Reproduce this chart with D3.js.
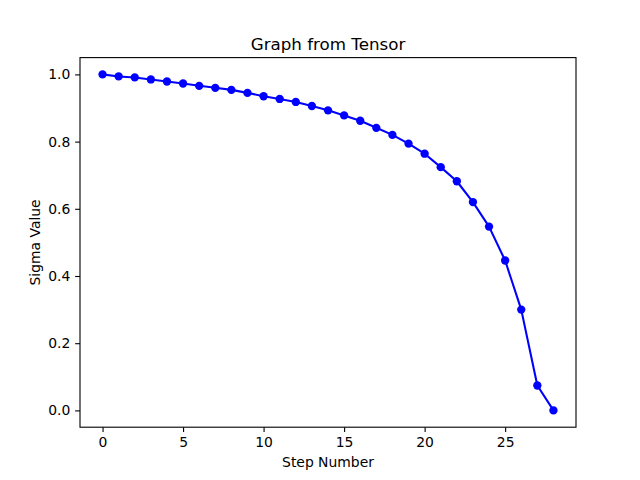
<!DOCTYPE html>
<html>
<head>
<meta charset="utf-8">
<script src="https://cdn.jsdelivr.net/npm/d3@7"></script>
<style>
  body { margin: 0; background: #fff; }
  svg text { font-family: "DejaVu Sans", sans-serif; }
</style>
</head>
<body>
<svg id="chart" width="640" height="480"></svg>
<script>
// step numbers and sigma values
const steps = d3.range(0, 29);
const sigmas = [1.000, 0.994, 0.991, 0.985, 0.979, 0.973, 0.966, 0.960, 0.954, 0.945,
                0.935, 0.927, 0.918, 0.906, 0.893, 0.878, 0.862, 0.841, 0.820, 0.794,
                0.764, 0.724, 0.682, 0.620, 0.547, 0.446, 0.300, 0.074, 0.000];
const xTicks = [0, 5, 10, 15, 20, 25];
const yTicks = [0.0, 0.2, 0.4, 0.6, 0.8, 1.0];

const svg = d3.select("#chart");
const plotLeft = 80, plotRight = 576, plotTop = 57.6, plotBottom = 427.2;

// matplotlib style 5% margins
const x = d3.scaleLinear().domain([-1.4, 29.4]).range([plotLeft, plotRight]);
const y = d3.scaleLinear().domain([-0.05, 1.05]).range([plotBottom, plotTop]);

const data = steps.map((s, i) => ({ s: s, v: sigmas[i] }));

// line
svg.append("path")
  .datum(data)
  .attr("fill", "none")
  .attr("stroke", "#0000ff")
  .attr("stroke-width", 2.08)
  .attr("stroke-linejoin", "round")
  .attr("d", d3.line().x(d => x(d.s)).y(d => y(d.v)));

// markers
svg.selectAll("circle.pt")
  .data(data)
  .enter().append("circle")
  .attr("class", "pt")
  .attr("cx", d => x(d.s))
  .attr("cy", d => y(d.v))
  .attr("r", 4.17)
  .attr("fill", "#0000ff");

// axes
const xAxis = svg.append("g")
  .attr("transform", "translate(0," + plotBottom + ")")
  .call(d3.axisBottom(x).tickValues(xTicks).tickFormat(d3.format("d")).tickSize(4.86).tickPadding(4.8));
const yAxis = svg.append("g")
  .attr("transform", "translate(" + plotLeft + ",0)")
  .call(d3.axisLeft(y).tickValues(yTicks).tickFormat(d3.format(".1f")).tickSize(4.86).tickPadding(4.8));

[xAxis, yAxis].forEach(g => {
  g.select(".domain").remove();
  g.selectAll(".tick line").attr("stroke", "#000").attr("stroke-width", 1.1);
  g.selectAll(".tick text").attr("font-size", 13.9).attr("fill", "#000")
    .style("font-family", "'DejaVu Sans', sans-serif");
});

// frame
svg.append("rect")
  .attr("x", plotLeft).attr("y", plotTop)
  .attr("width", plotRight - plotLeft).attr("height", plotBottom - plotTop)
  .attr("fill", "none").attr("stroke", "#000").attr("stroke-width", 1.1);

// title and labels
svg.append("text")
  .attr("x", (plotLeft + plotRight) / 2).attr("y", 49.5)
  .attr("text-anchor", "middle").attr("font-size", 16.7)
  .text("Graph from Tensor");

svg.append("text")
  .attr("x", (plotLeft + plotRight) / 2).attr("y", 467)
  .attr("text-anchor", "middle").attr("font-size", 13.9)
  .text("Step Number");

svg.append("text")
  .attr("transform", "translate(40," + ((plotTop + plotBottom) / 2) + ") rotate(-90)")
  .attr("text-anchor", "middle").attr("font-size", 13.9)
  .text("Sigma Value");
</script>
</body>
</html>
